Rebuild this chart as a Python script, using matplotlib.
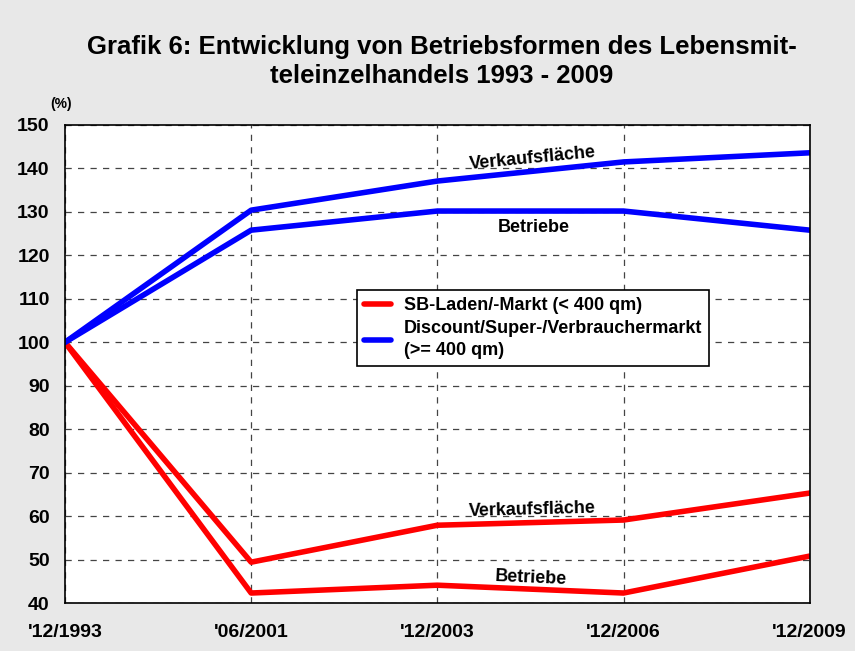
import matplotlib.pyplot as plt

# daten
zeitpunkte = ["'12/1993", "'06/2001", "'12/2003", "'12/2006", "'12/2009"]
sb_verkaufsflaeche = [100, 49.4, 57.9, 59.1, 65.3]
sb_betriebe = [100, 42.3, 44.1, 42.3, 50.8]
disc_verkaufsflaeche = [100, 130.4, 137.1, 141.5, 143.6]
disc_betriebe = [100, 125.8, 130.2, 130.2, 125.8]

plt.rcParams['font.family'] = ['Liberation Sans', 'DejaVu Sans']
plt.rcParams['font.weight'] = 'bold'

fig = plt.figure(figsize=(8.55, 6.51), dpi=100, facecolor='#e8e8e8')
ax = fig.add_axes([0.076, 0.0737, 0.871, 0.7343])
ax.set_facecolor('white')

x = range(len(zeitpunkte))
ax.plot(x, sb_verkaufsflaeche, color='#ff0000', lw=4, solid_capstyle='round',
        label='SB-Laden/-Markt (< 400 qm)')
ax.plot(x, sb_betriebe, color='#ff0000', lw=4, solid_capstyle='round')
ax.plot(x, disc_verkaufsflaeche, color='#0000ff', lw=4, solid_capstyle='round',
        label='Discount/Super-/Verbrauchermarkt\n(>= 400 qm)')
ax.plot(x, disc_betriebe, color='#0000ff', lw=4, solid_capstyle='round')

ax.set_xlim(0, 4)
ax.set_ylim(40, 150)
ax.set_yticks(range(40, 151, 10))
ax.set_xticks(list(x))
ax.set_xticklabels(zeitpunkte)
ax.tick_params(axis='both', length=0, labelsize=14)
ax.tick_params(axis='y', pad=11)
ax.tick_params(axis='x', pad=15)
for lbl in ax.get_xticklabels() + ax.get_yticklabels():
    lbl.set_fontweight('bold')
ax.grid(True, color='#444444', linestyle=(0, (5, 5)), lw=0.9)
for s in ax.spines.values():
    s.set_color('black')
    s.set_linewidth(1.2)

# beschriftungen an den linien
ax.text(2.51, 142.4, 'Verkaufsfläche', fontsize=13, fontweight='bold',
        ha='center', va='center', rotation=5.5)
ax.text(2.52, 126.3, 'Betriebe', fontsize=13, fontweight='bold',
        ha='center', va='center')
ax.text(2.51, 61.4, 'Verkaufsfläche', fontsize=13, fontweight='bold',
        ha='center', va='center', rotation=1.5)
ax.text(2.5, 45.8, 'Betriebe', fontsize=13, fontweight='bold',
        ha='center', va='center', rotation=-2.5)

leg = ax.legend(loc='upper left', bbox_to_anchor=(0.392, 0.655), fontsize=13,
                frameon=True, fancybox=False, edgecolor='black', framealpha=1,
                handlelength=1.5, handletextpad=0.7, borderpad=0.4,
                labelspacing=0.35, borderaxespad=0)
leg.get_frame().set_linewidth(1.2)
for t in leg.get_texts():
    t.set_fontweight('bold')
    t.set_linespacing(1.35)

fig.text(0.071, 0.834, '(%)', fontsize=10, fontweight='bold', ha='center')
fig.text(0.517, 0.872, 'Grafik 6: Entwicklung von Betriebsformen des Lebensmit-\nteleinzelhandels 1993 - 2009',
         fontsize=18.5, fontweight='bold', ha='center', va='baseline',
         linespacing=1.3)

plt.savefig('out.png', dpi=100, facecolor=fig.get_facecolor())
